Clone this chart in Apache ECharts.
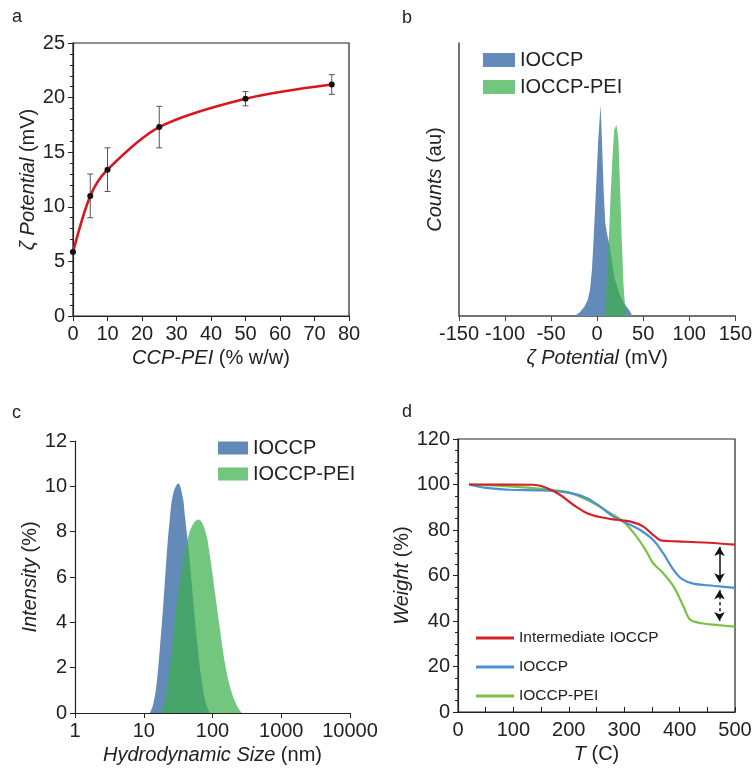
<!DOCTYPE html>
<html>
<head>
<meta charset="utf-8">
<script src="https://cdn.jsdelivr.net/npm/echarts@6/dist/echarts.min.js"></script>
<style>html,body{margin:0;padding:0;background:#fff;}#c{width:755px;height:771px;}</style>
</head>
<body>
<div id="c"></div>
<script>
// Panel a: zeta potential vs CCP-PEI
const aX = [0, 5, 10, 25, 50, 75];
const aY = [5.85, 11.0, 13.4, 17.3, 19.9, 21.2];
const aErr = [0, 2.0, 2.0, 1.9, 0.65, 0.9];

// Panel b: zeta potential distribution (relative counts)
const bBlueX = [-24.7, -19.3, -13.9, -10.3, -7.8, -5.7, -3.9, -1.3, 1.2, 3.7, 5.2, 7.0, 8.8, 11.3, 13.8, 18.5, 23.9, 29.3, 34.7, 38.3];
const bBlueY = [0, 1.2, 3.4, 5.9, 9.5, 16.8, 27.8, 46.2, 64.5, 77.3, 64.5, 46.2, 34, 29.1, 25.4, 14.4, 8.3, 4.6, 2.2, 0];
const bGreenX = [7.7, 9.5, 11.3, 13.1, 14.9, 16.7, 18.5, 21.0, 23.1, 24.9, 26.7, 28.5, 30.3, 32.1];
const bGreenY = [0, 7.1, 19.3, 31.5, 46.2, 58.4, 68.1, 70, 64.5, 46.2, 27.8, 12, 3.4, 0];

// Panel c: DLS size distribution
const cBlueX = [12.3, 13.8, 15.4, 17.2, 19.3, 21.5, 24.1, 26.9, 31.8, 36.8, 39.8, 44.5, 49.8, 55.6, 62.2, 69.6, 80.4, 92];
const cBlueY = [0, 0.41, 1.3, 2.9, 4.83, 6.9, 8.66, 9.69, 10.13, 9.54, 8.66, 7.33, 5.71, 4.09, 2.62, 1.44, 0.41, 0];
const cGreenX = [18.2, 20.4, 22.8, 25.5, 30.1, 35.6, 42.1, 49.8, 62.2, 77.8, 92, 109, 129, 152, 180, 225, 266];
const cGreenY = [0, 0.56, 1.59, 2.77, 4.83, 6.3, 7.48, 8.22, 8.54, 8.07, 6.89, 5.27, 3.65, 2.18, 1.15, 0.34, 0];

// Panel d: TGA
const dRedT = [20, 135, 160, 184, 208, 232, 256, 286, 310, 334, 352, 368, 395, 443, 500];
const dRedW = [100, 99.9, 98.5, 95.5, 91.1, 87.5, 85.7, 84.5, 83.8, 81.6, 77.9, 75.3, 75.0, 74.5, 73.6];
const dBlueT = [20, 51, 93, 154, 202, 232, 256, 280, 304, 328, 352, 370, 389, 404, 425, 461, 500];
const dBlueW = [100, 98.5, 97.7, 97.4, 96.3, 94.1, 90.4, 86, 83.1, 80.1, 75.7, 69.9, 62.5, 58.5, 56.4, 55.5, 54.6];
const dGreenT = [20, 93, 154, 202, 244, 274, 298, 322, 340, 352, 370, 389, 407, 419, 440, 470, 500];
const dGreenW = [100, 99.2, 98, 96.3, 91.9, 87.5, 83.8, 77.2, 70.6, 65.5, 61.1, 55.2, 46.4, 40.6, 39, 38.2, 37.5];
const dArrowT = 472;
const dArrowSolid = [72.5, 57];
const dArrowDashed = [53.5, 40];

const FONT = 'Liberation Sans, Arial, sans-serif';
const TXT = '#222';
const FS = 20;
const zip = (xs, ys) => xs.map((x, i) => [x, ys[i]]);
const BLUE = 'rgb(100,138,186)';
const GREEN = 'rgba(59,176,76,0.72)';

function nameStyle() {
  return { fontFamily: FONT, fontSize: FS, color: TXT,
    rich: { i: { fontFamily: FONT, fontSize: FS, color: TXT, fontStyle: 'italic' },
            n: { fontFamily: FONT, fontSize: FS, color: TXT } } };
}
const lbl = { fontFamily: FONT, fontSize: FS, color: TXT };
const axLine = { show: true, lineStyle: { color: '#222', width: 1.2 } };

const chart = echarts.init(document.getElementById('c'), null, { renderer: 'canvas' });
chart.setOption({
  animation: false,
  backgroundColor: '#fff',
  textStyle: { fontFamily: FONT },
  graphic: [
    { type: 'text', left: 12, top: 8, style: { text: 'a', font: '18px ' + FONT, fill: TXT } },
    { type: 'text', left: 402, top: 9, style: { text: 'b', font: '18px ' + FONT, fill: TXT } },
    { type: 'text', left: 12, top: 404, style: { text: 'c', font: '18px ' + FONT, fill: TXT } },
    { type: 'text', left: 402, top: 403, style: { text: 'd', font: '18px ' + FONT, fill: TXT } }
  ],
  legend: [
    { data: ['IOCCP', 'IOCCP-PEI'], left: 478, top: 45, orient: 'vertical', icon: 'rect',
      itemWidth: 32, itemHeight: 14, itemGap: 7, textStyle: lbl, selectedMode: false },
    { data: ['IOCCP ', 'IOCCP-PEI '], left: 213, top: 433, orient: 'vertical', icon: 'rect',
      itemWidth: 30, itemHeight: 13, itemGap: 6, textStyle: lbl, selectedMode: false },
    { data: ['Intermediate IOCCP', 'IOCCP  ', 'IOCCP-PEI  '], left: 471, top: 625, orient: 'vertical',
      icon: 'rect', itemWidth: 38, itemHeight: 3, itemGap: 13,
      textStyle: { fontFamily: FONT, fontSize: 15.5, color: TXT }, selectedMode: false }
  ],
  grid: [
    { left: 73, top: 43, width: 276, height: 273, show: true, borderColor: '#222', borderWidth: 1.2, backgroundColor: 'transparent' },
    { left: 459, top: 43, width: 278, height: 273 },
    { left: 75, top: 441, width: 275, height: 272 },
    { left: 458, top: 439, width: 277, height: 273, show: true, borderColor: '#222', borderWidth: 1.2, backgroundColor: 'transparent' }
  ],
  xAxis: [
    { gridIndex: 0, type: 'value', min: 0, max: 80, interval: 10,
      axisLine: axLine, axisTick: { show: true, inside: false, length: 5, lineStyle: { color: '#222' } },
      axisLabel: lbl, splitLine: { show: false },
      name: '{i|CCP-PEI}{n| (% w/w)}', nameLocation: 'middle', nameGap: 32, nameTextStyle: nameStyle() },
    { gridIndex: 1, type: 'value', min: -150, max: 150, interval: 50,
      axisLine: { show: true, onZero: false, lineStyle: { color: '#3d4a40', width: 1.5 } },
      axisTick: { show: true, inside: false, length: 5, lineStyle: { color: '#3d4a40' } },
      axisLabel: Object.assign({ hideOverlap: false }, lbl), splitLine: { show: false },
      name: '{i|ζ Potential}{n| (mV)}', nameLocation: 'middle', nameGap: 32, nameTextStyle: nameStyle() },
    { gridIndex: 2, type: 'log', logBase: 10, min: 1, max: 10000,
      axisLine: axLine, axisTick: { show: true, inside: false, length: 5, lineStyle: { color: '#222' } },
      axisLabel: Object.assign({ formatter: v => String(Math.round(v)) }, lbl), splitLine: { show: false },
      name: '{i|Hydrodynamic Size}{n| (nm)}', nameLocation: 'middle', nameGap: 32, nameTextStyle: nameStyle() },
    { gridIndex: 3, type: 'value', min: 0, max: 500, interval: 100,
      axisLine: axLine, axisTick: { show: true, inside: true, length: 5, lineStyle: { color: '#222' } },
      minorTick: { show: true, splitNumber: 2, length: 5, lineStyle: { color: '#222' } },
      axisLabel: lbl, splitLine: { show: false }, minorSplitLine: { show: false },
      name: '{i|T}{n| (C)}', nameLocation: 'middle', nameGap: 32, nameTextStyle: nameStyle() }
  ],
  yAxis: [
    { gridIndex: 0, type: 'value', min: 0, max: 25, interval: 5,
      axisLine: axLine, axisTick: { show: true, inside: false, length: 5, lineStyle: { color: '#222' } },
      minorTick: { show: true, splitNumber: 5, length: 3, lineStyle: { color: '#222' } },
      axisLabel: lbl, splitLine: { show: false }, minorSplitLine: { show: false },
      name: '{i|ζ Potential}{n| (mV)}', nameLocation: 'middle', nameGap: 35, nameTextStyle: nameStyle() },
    { gridIndex: 1, type: 'value', min: 0, max: 100,
      axisLine: { show: true, onZero: false, lineStyle: { color: '#3d4a40', width: 1.5 } },
      axisTick: { show: false }, axisLabel: { show: false }, splitLine: { show: false },
      name: '{i|Counts}{n| (au)}', nameLocation: 'middle', nameGap: 14, nameTextStyle: nameStyle() },
    { gridIndex: 2, type: 'value', min: 0, max: 12, interval: 2,
      axisLine: axLine, axisTick: { show: true, inside: false, length: 5, lineStyle: { color: '#222' } },
      axisLabel: lbl, splitLine: { show: false },
      name: '{i|Intensity}{n| (%)}', nameLocation: 'middle', nameGap: 35, nameTextStyle: nameStyle() },
    { gridIndex: 3, type: 'value', min: 0, max: 120, interval: 20,
      axisLine: axLine, axisTick: { show: true, inside: false, length: 5, lineStyle: { color: '#222' } },
      minorTick: { show: true, splitNumber: 4, length: 3, lineStyle: { color: '#222' } },
      axisLabel: lbl, splitLine: { show: false }, minorSplitLine: { show: false },
      name: '{i|Weight}{n| (%)}', nameLocation: 'middle', nameGap: 45, nameTextStyle: nameStyle() }
  ],
  series: [
    // a: error bars
    { type: 'custom', xAxisIndex: 0, yAxisIndex: 0, z: 1,
      data: aX.map((x, i) => [x, aY[i] - aErr[i], aY[i] + aErr[i]]),
      encode: { x: 0, y: [1, 2] },
      renderItem: function (params, api) {
        const x = api.value(0);
        const p1 = api.coord([x, api.value(1)]);
        const p2 = api.coord([x, api.value(2)]);
        const w = 3;
        const st = { stroke: '#555', lineWidth: 1 };
        return { type: 'group', children: [
          { type: 'line', shape: { x1: p1[0], y1: p1[1], x2: p2[0], y2: p2[1] }, style: st },
          { type: 'line', shape: { x1: p1[0] - w, y1: p1[1], x2: p1[0] + w, y2: p1[1] }, style: st },
          { type: 'line', shape: { x1: p2[0] - w, y1: p2[1], x2: p2[0] + w, y2: p2[1] }, style: st }
        ] };
      } },
    { type: 'line', xAxisIndex: 0, yAxisIndex: 0, z: 3, data: zip(aX, aY), smooth: 0.3,
      symbol: 'circle', symbolSize: 6, itemStyle: { color: '#111' },
      lineStyle: { color: '#d9161c', width: 2.6 } },
    // b
    { name: 'IOCCP', type: 'line', xAxisIndex: 1, yAxisIndex: 1, data: zip(bBlueX, bBlueY),
      symbol: 'none', lineStyle: { width: 0, color: BLUE }, itemStyle: { color: BLUE },
      areaStyle: { color: BLUE, opacity: 1 } },
    { name: 'IOCCP-PEI', type: 'line', xAxisIndex: 1, yAxisIndex: 1, data: zip(bGreenX, bGreenY),
      symbol: 'none', lineStyle: { width: 0, color: GREEN }, itemStyle: { color: 'rgb(114,198,126)' },
      areaStyle: { color: GREEN, opacity: 1 } },
    // c
    { name: 'IOCCP ', type: 'line', xAxisIndex: 2, yAxisIndex: 2, data: zip(cBlueX, cBlueY), smooth: 0.4,
      symbol: 'none', lineStyle: { width: 0, color: BLUE }, itemStyle: { color: BLUE },
      areaStyle: { color: BLUE, opacity: 1 } },
    { name: 'IOCCP-PEI ', type: 'line', xAxisIndex: 2, yAxisIndex: 2, data: zip(cGreenX, cGreenY), smooth: 0.4,
      symbol: 'none', lineStyle: { width: 0, color: GREEN }, itemStyle: { color: 'rgb(114,198,126)' },
      areaStyle: { color: GREEN, opacity: 1 } },
    // d
    { name: 'Intermediate IOCCP', type: 'line', xAxisIndex: 3, yAxisIndex: 3, data: zip(dRedT, dRedW), smooth: 0.35,
      symbol: 'none', lineStyle: { color: '#d42027', width: 2.2 }, itemStyle: { color: '#d42027' }, z: 4 },
    { name: 'IOCCP  ', type: 'line', xAxisIndex: 3, yAxisIndex: 3, data: zip(dBlueT, dBlueW), smooth: 0.35,
      symbol: 'none', lineStyle: { color: '#4b8fd6', width: 2.2 }, itemStyle: { color: '#4b8fd6' }, z: 3,
      markLine: { silent: true, symbol: ['arrow', 'arrow'], symbolSize: [8, 9], label: { show: false },
        data: [
          [{ coord: [dArrowT, dArrowSolid[0]] }, { coord: [dArrowT, dArrowSolid[1]] }],
          [{ coord: [dArrowT, dArrowDashed[0]], lineStyle: { type: [3, 3] } }, { coord: [dArrowT, dArrowDashed[1]] }]
        ],
        lineStyle: { color: '#111', width: 1.5, type: 'solid' } } },
    { name: 'IOCCP-PEI  ', type: 'line', xAxisIndex: 3, yAxisIndex: 3, data: zip(dGreenT, dGreenW), smooth: 0.35,
      symbol: 'none', lineStyle: { color: '#7cc242', width: 2.2 }, itemStyle: { color: '#7cc242' }, z: 2 }
  ]
});
</script>
</body>
</html>
